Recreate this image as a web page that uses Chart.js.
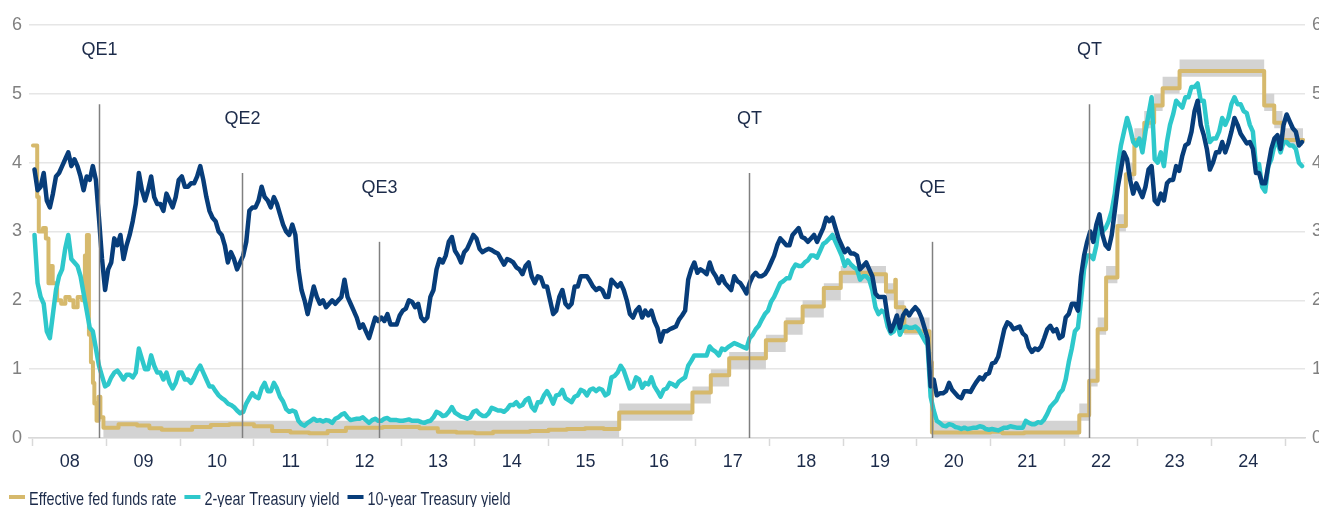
<!DOCTYPE html>
<html>
<head>
<meta charset="utf-8">
<script src="https://cdn.jsdelivr.net/npm/chart.js@4.4.1/dist/chart.umd.min.js"></script>
<style>
  html, body { margin: 0; padding: 0; background: #fff; overflow: hidden; }
  #wrap { position: relative; width: 1332px; height: 515px; }
</style>
</head>
<body>
<div id="wrap"><canvas id="chart"></canvas></div>
<script>
// Year labels under the axis (centred in each year)
var yearLabels = ["08", "09", "10", "11", "12", "13", "14", "15", "16", "17", "18", "19", "20", "21", "22", "23", "24"];

// Months of the Treasury yield series, two readings per month
var yieldMonths = [
  "2008-01","2008-02","2008-03","2008-04","2008-05","2008-06","2008-07","2008-08","2008-09","2008-10","2008-11","2008-12",
  "2009-01","2009-02","2009-03","2009-04","2009-05","2009-06","2009-07","2009-08","2009-09","2009-10","2009-11","2009-12",
  "2010-01","2010-02","2010-03","2010-04","2010-05","2010-06","2010-07","2010-08","2010-09","2010-10","2010-11","2010-12",
  "2011-01","2011-02","2011-03","2011-04","2011-05","2011-06","2011-07","2011-08","2011-09","2011-10","2011-11","2011-12",
  "2012-01","2012-02","2012-03","2012-04","2012-05","2012-06","2012-07","2012-08","2012-09","2012-10","2012-11","2012-12",
  "2013-01","2013-02","2013-03","2013-04","2013-05","2013-06","2013-07","2013-08","2013-09","2013-10","2013-11","2013-12",
  "2014-01","2014-02","2014-03","2014-04","2014-05","2014-06","2014-07","2014-08","2014-09","2014-10","2014-11","2014-12",
  "2015-01","2015-02","2015-03","2015-04","2015-05","2015-06","2015-07","2015-08","2015-09","2015-10","2015-11","2015-12",
  "2016-01","2016-02","2016-03","2016-04","2016-05","2016-06","2016-07","2016-08","2016-09","2016-10","2016-11","2016-12",
  "2017-01","2017-02","2017-03","2017-04","2017-05","2017-06","2017-07","2017-08","2017-09","2017-10","2017-11","2017-12",
  "2018-01","2018-02","2018-03","2018-04","2018-05","2018-06","2018-07","2018-08","2018-09","2018-10","2018-11","2018-12",
  "2019-01","2019-02","2019-03","2019-04","2019-05","2019-06","2019-07","2019-08","2019-09","2019-10","2019-11","2019-12",
  "2020-01","2020-02","2020-03","2020-04","2020-05","2020-06","2020-07","2020-08","2020-09","2020-10","2020-11","2020-12",
  "2021-01","2021-02","2021-03","2021-04","2021-05","2021-06","2021-07","2021-08","2021-09","2021-10","2021-11","2021-12",
  "2022-01","2022-02","2022-03","2022-04","2022-05","2022-06","2022-07","2022-08","2022-09","2022-10","2022-11","2022-12",
  "2023-01","2023-02","2023-03","2023-04","2023-05","2023-06","2023-07","2023-08","2023-09","2023-10","2023-11","2023-12",
  "2024-01","2024-02","2024-03","2024-04","2024-05","2024-06","2024-07","2024-08","2024-09","2024-10","2024-11","2024-12",
  "2025-01","2025-02","2025-03"
];

// 10-year Treasury yield (%), first and second half of each month
var tenYear = [
  3.90,3.60, 3.65,3.85, 3.45,3.35, 3.55,3.80, 3.85,3.95, 4.05,4.15, 3.95,4.05, 3.95,3.80, 3.60,3.80, 3.75,3.95, 3.75,3.20, 2.60,2.15,
  2.45,2.55, 2.90,2.80, 2.95,2.60, 2.80,2.95, 3.15,3.40, 3.85,3.60, 3.45,3.60, 3.80,3.50, 3.40,3.40, 3.30,3.55, 3.45,3.35, 3.50,3.75,
  3.80,3.65, 3.65,3.70, 3.70,3.80, 3.95,3.75, 3.50,3.30, 3.20,3.15, 3.00,2.95, 2.80,2.55, 2.70,2.60, 2.45,2.55, 2.65,2.85, 3.30,3.35,
  3.35,3.45, 3.65,3.50, 3.45,3.35, 3.50,3.40, 3.25,3.10, 3.00,2.95, 3.10,2.95, 2.45,2.15, 2.00,1.80, 2.00,2.20, 2.05,1.95, 2.00,1.90,
  1.95,2.00, 1.95,2.00, 2.05,2.30, 2.05,1.95, 1.85,1.75, 1.60,1.65, 1.55,1.45, 1.60,1.75, 1.70,1.75, 1.70,1.80, 1.65,1.65, 1.65,1.78,
  1.85,1.88, 2.00,1.98, 1.90,1.95, 1.75,1.70, 1.75,2.05, 2.15,2.45, 2.60,2.55, 2.65,2.85, 2.92,2.72, 2.65,2.55, 2.70,2.75, 2.85,2.95,
  2.90,2.75, 2.70,2.73, 2.75,2.73, 2.70,2.68, 2.60,2.52, 2.60,2.58, 2.55,2.48, 2.45,2.38, 2.50,2.55, 2.35,2.25, 2.35,2.33, 2.20,2.20,
  2.00,1.80, 1.85,2.05, 2.15,1.95, 1.90,1.95, 2.20,2.20, 2.35,2.35, 2.35,2.28, 2.20,2.15, 2.18,2.15, 2.05,2.05, 2.30,2.25, 2.20,2.25,
  2.15,2.00, 1.80,1.75, 1.85,1.90, 1.75,1.85, 1.78,1.85, 1.70,1.60, 1.40,1.55, 1.55,1.58, 1.60,1.62, 1.72,1.78, 1.85,2.30, 2.45,2.55,
  2.40,2.45, 2.42,2.38, 2.55,2.42, 2.35,2.25, 2.35,2.25, 2.20,2.15, 2.35,2.28, 2.25,2.18, 2.10,2.25, 2.35,2.40, 2.35,2.35, 2.38,2.45,
  2.55,2.65, 2.80,2.90, 2.85,2.80, 2.80,2.95, 3.00,3.05, 2.92,2.90, 2.85,2.90, 2.95,2.85, 2.95,3.05, 3.20,3.15, 3.20,3.05, 2.90,2.80,
  2.70,2.75, 2.68,2.68, 2.65,2.45, 2.50,2.55, 2.45,2.35, 2.10,2.05, 2.05,2.05, 1.75,1.55, 1.65,1.78, 1.60,1.78, 1.85,1.78, 1.85,1.90,
  1.85,1.75, 1.60,1.45, 0.75,0.85, 0.62,0.65, 0.65,0.68, 0.80,0.70, 0.65,0.60, 0.58,0.68, 0.68,0.67, 0.75,0.82, 0.88,0.85, 0.92,0.94,
  1.08,1.10, 1.18,1.38, 1.58,1.68, 1.65,1.58, 1.60,1.62, 1.52,1.48, 1.32,1.25, 1.30,1.28, 1.33,1.45, 1.58,1.63, 1.55,1.58, 1.45,1.48,
  1.75,1.80, 1.95,1.95, 1.85,2.35, 2.65,2.85, 3.00,2.85, 3.10,3.25, 2.95,2.80, 2.75,2.95, 3.30,3.65, 3.90,4.15, 4.05,3.75, 3.55,3.70,
  3.60,3.50, 3.65,3.90, 3.95,3.45, 3.40,3.55, 3.45,3.70, 3.75,3.75, 3.95,3.88, 4.10,4.25, 4.28,4.45, 4.75,4.90, 4.55,4.40, 4.20,3.90,
  4.00,4.15, 4.15,4.30, 4.15,4.28, 4.45,4.65, 4.55,4.42, 4.35,4.28, 4.30,4.20, 3.85,3.85, 3.70,3.70, 3.95,4.20, 4.35,4.40, 4.20,4.55,
  4.70,4.60, 4.50,4.45, 4.25,4.30
];

// 2-year Treasury yield (%), first and second half of each month
var twoYear = [
  2.95,2.25, 2.05,1.95, 1.55,1.45, 1.80,2.15, 2.35,2.45, 2.75,2.95, 2.60,2.55, 2.50,2.35, 2.10,1.85, 1.60,1.55, 1.30,1.05, 0.90,0.75,
  0.78,0.88, 0.95,0.98, 0.92,0.85, 0.92,0.92, 0.88,0.95, 1.30,1.15, 1.00,1.00, 1.20,1.05, 0.95,0.95, 0.85,0.95, 0.80,0.72, 0.80,0.95,
  0.95,0.85, 0.85,0.80, 0.88,0.98, 1.05,0.95, 0.85,0.75, 0.75,0.68, 0.62,0.58, 0.55,0.50, 0.48,0.45, 0.40,0.36, 0.38,0.50, 0.58,0.65,
  0.60,0.58, 0.72,0.80, 0.68,0.68, 0.80,0.72, 0.60,0.53, 0.42,0.38, 0.40,0.38, 0.25,0.20, 0.18,0.22, 0.25,0.28, 0.25,0.26, 0.24,0.26,
  0.25,0.22, 0.28,0.30, 0.34,0.36, 0.30,0.26, 0.27,0.28, 0.28,0.30, 0.26,0.22, 0.26,0.28, 0.25,0.25, 0.28,0.29, 0.26,0.26, 0.26,0.25,
  0.25,0.26, 0.27,0.25, 0.25,0.25, 0.23,0.22, 0.24,0.25, 0.30,0.38, 0.36,0.32, 0.33,0.38, 0.45,0.37, 0.34,0.31, 0.30,0.28, 0.30,0.38,
  0.40,0.35, 0.32,0.32, 0.36,0.44, 0.42,0.40, 0.40,0.38, 0.42,0.48, 0.48,0.52, 0.46,0.48, 0.55,0.58, 0.45,0.40, 0.52,0.52, 0.62,0.68,
  0.60,0.50, 0.62,0.63, 0.70,0.58, 0.55,0.52, 0.60,0.62, 0.70,0.68, 0.62,0.70, 0.72,0.68, 0.72,0.70, 0.62,0.65, 0.88,0.90, 0.95,1.05,
  0.98,0.85, 0.72,0.75, 0.88,0.85, 0.73,0.80, 0.78,0.88, 0.75,0.68, 0.60,0.70, 0.72,0.80, 0.78,0.75, 0.82,0.85, 0.88,1.05, 1.12,1.20,
  1.20,1.20, 1.20,1.20, 1.33,1.28, 1.25,1.20, 1.30,1.28, 1.32,1.35, 1.38,1.36, 1.34,1.32, 1.30,1.45, 1.50,1.58, 1.63,1.72, 1.80,1.85,
  1.98,2.05, 2.15,2.25, 2.28,2.32, 2.32,2.45, 2.52,2.50, 2.50,2.55, 2.58,2.65, 2.65,2.62, 2.72,2.82, 2.85,2.90, 2.95,2.85, 2.75,2.65,
  2.50,2.58, 2.52,2.48, 2.45,2.30, 2.35,2.35, 2.30,2.15, 1.90,1.80, 1.85,1.82, 1.62,1.52, 1.55,1.70, 1.50,1.60, 1.62,1.60, 1.60,1.62,
  1.58,1.50, 1.42,1.35, 0.60,0.40, 0.25,0.22, 0.18,0.17, 0.20,0.19, 0.16,0.15, 0.13,0.15, 0.13,0.14, 0.15,0.15, 0.17,0.16, 0.13,0.12,
  0.13,0.12, 0.11,0.13, 0.15,0.15, 0.17,0.16, 0.15,0.15, 0.15,0.25, 0.22,0.20, 0.20,0.23, 0.22,0.27, 0.35,0.45, 0.50,0.55, 0.65,0.70,
  0.85,1.10, 1.30,1.55, 1.60,2.00, 2.45,2.65, 2.65,2.60, 2.80,3.15, 3.00,3.05, 3.15,3.30, 3.55,3.95, 4.25,4.45, 4.65,4.50, 4.30,4.25,
  4.35,4.15, 4.45,4.70, 4.95,4.05, 4.00,4.15, 3.95,4.30, 4.55,4.70, 4.90,4.85, 4.80,4.95, 4.95,5.10, 5.10,5.15, 4.90,4.90, 4.55,4.30,
  4.35,4.35, 4.45,4.65, 4.55,4.65, 4.85,4.95, 4.85,4.85, 4.75,4.72, 4.55,4.45, 3.95,3.98, 3.65,3.58, 3.95,4.05, 4.25,4.30, 4.15,4.30,
  4.30,4.25, 4.25,4.20, 4.00,3.95
];

// Effective fed funds rate (%), value from each date on
var effrDates = [
  "2008-01-01","2008-01-22","2008-01-30","2008-02-20","2008-03-05","2008-03-18","2008-04-01","2008-04-08","2008-04-30",
  "2008-05-20","2008-06-10","2008-07-01","2008-07-20","2008-08-10","2008-09-01","2008-09-15","2008-09-18","2008-09-25",
  "2008-10-05","2008-10-15","2008-10-25","2008-11-01","2008-11-12","2008-11-22","2008-12-01","2008-12-16",
  "2009-03-01","2009-06-01","2009-08-01","2009-10-01","2010-03-01","2010-06-01","2010-09-01","2011-01-01","2011-04-01",
  "2011-07-01","2011-10-01","2012-01-01","2012-04-01","2012-10-01","2013-04-01","2013-07-01","2013-10-01","2014-01-01",
  "2014-04-01","2014-10-01","2015-01-01","2015-04-01","2015-07-01","2015-10-01","2015-12-17","2016-12-15","2017-03-16",
  "2017-06-15","2017-12-14","2018-03-22","2018-06-14","2018-09-27","2018-12-20","2019-05-02","2019-08-01","2019-09-16",
  "2019-09-19","2019-10-31","2020-03-04","2020-03-16","2021-01-01","2021-03-01","2021-06-17","2022-03-17","2022-05-05",
  "2022-06-16","2022-07-28","2022-09-22","2022-11-03","2022-12-15","2023-02-02","2023-03-23","2023-05-04","2023-07-27",
  "2024-09-19","2024-11-08","2024-12-19","2025-03-31"
];
var effrValues = [
  4.25, 3.50, 3.00, 3.05, 2.90, 2.25, 2.50, 2.25, 2.00,
  1.95, 2.05, 2.00, 1.90, 2.05, 2.00, 2.65, 2.00, 2.95,
  1.50, 1.10, 0.80, 0.50, 0.25, 0.60, 0.30, 0.15,
  0.20, 0.18, 0.14, 0.12, 0.16, 0.19, 0.20, 0.17, 0.10,
  0.08, 0.07, 0.10, 0.15, 0.16, 0.14, 0.09, 0.08, 0.07,
  0.09, 0.10, 0.12, 0.13, 0.14, 0.13, 0.37, 0.66, 0.91,
  1.16, 1.42, 1.68, 1.91, 2.18, 2.40, 2.38, 2.13, 2.30,
  1.90, 1.55, 1.10, 0.08, 0.09, 0.07, 0.08, 0.33, 0.83,
  1.58, 2.33, 3.08, 3.83, 4.33, 4.58, 4.83, 5.08, 5.33,
  4.83, 4.58, 4.33, 4.33
];

// Fed funds target range (%), from each date on
var targetDates = [
  "2008-01-01","2008-01-22","2008-01-30","2008-03-18","2008-04-30","2008-10-08","2008-10-29","2008-12-16","2015-12-17",
  "2016-12-15","2017-03-16","2017-06-15","2017-12-14","2018-03-22","2018-06-14","2018-09-27","2018-12-20","2019-08-01",
  "2019-09-19","2019-10-31","2020-03-04","2020-03-16","2022-03-17","2022-05-05","2022-06-16","2022-07-28","2022-09-22",
  "2022-11-03","2022-12-15","2023-02-02","2023-03-23","2023-05-04","2023-07-27","2024-09-19","2024-11-08","2024-12-19",
  "2025-03-31"
];
var targetLower = [4.25, 3.50, 3.00, 2.25, 2.00, 1.50, 1.00, 0.00, 0.25, 0.50, 0.75, 1.00, 1.25, 1.50, 1.75, 2.00, 2.25, 2.00,
  1.75, 1.50, 1.00, 0.00, 0.25, 0.75, 1.50, 2.25, 3.00, 3.75, 4.25, 4.50, 4.75, 5.00, 5.25, 4.75, 4.50, 4.25, 4.25];
var targetUpper = [4.25, 3.50, 3.00, 2.25, 2.00, 1.50, 1.00, 0.25, 0.50, 0.75, 1.00, 1.25, 1.50, 1.75, 2.00, 2.25, 2.50, 2.25,
  2.00, 1.75, 1.25, 0.25, 0.50, 1.00, 1.75, 2.50, 3.25, 4.00, 4.50, 4.75, 5.00, 5.25, 5.50, 5.00, 4.75, 4.50, 4.50];

// Policy events marked with vertical lines
var eventLabels = ["QE1", "QE2", "QE3", "QT", "QE", "QT"];
var eventDates = ["2008-11-25", "2010-11-03", "2012-09-13", "2017-09-20", "2020-03-15", "2022-05-04"];
var eventTops = [4.85, 3.85, 2.85, 3.85, 2.85, 4.85];

var gold = "#d6b96c";
var teal = "#2ec8cb";
var navy = "#073d7a";
var textNavy = "#1c2b4a";
var axisGray = "#d9d9d9";
var labelFont = "'Liberation Sans', Arial, sans-serif";
var legendSqueeze = 0.76; // legend text is set in a condensed face

// decimal year from "YYYY-MM-DD"
function toYear(s) {
  var p = s.split("-");
  var y = +p[0];
  var start = Date.UTC(y, 0, 1);
  var end = Date.UTC(y + 1, 0, 1);
  return y + (Date.UTC(y, +p[1] - 1, +p[2]) - start) / (end - start);
}

// decimal year for the first / second half of a "YYYY-MM" month
function halfMonthYear(ym, half) {
  var p = ym.split("-");
  return +p[0] + (+p[1] - 1 + (half ? 0.75 : 0.25)) / 12;
}

var tenYearPoints = [];
var twoYearPoints = [];
yieldMonths.forEach(function (ym, i) {
  for (var h = 0; h < 2; h++) {
    var x = halfMonthYear(ym, h);
    tenYearPoints.push({ x: x, y: tenYear[i * 2 + h] });
    twoYearPoints.push({ x: x, y: twoYear[i * 2 + h] });
  }
});

var effrPoints = effrDates.map(function (d, i) { return { x: toYear(d), y: effrValues[i] }; });
var upperPoints = targetDates.map(function (d, i) { return { x: toYear(d), y: targetUpper[i] }; });
var lowerPoints = targetDates.map(function (d, i) { return { x: toYear(d), y: targetLower[i] }; });

// vertical event lines and their labels
var eventPlugin = {
  id: "eventLines",
  afterDatasetsDraw: function (chart) {
    var ctx = chart.ctx;
    var xs = chart.scales.x;
    var ys = chart.scales.y;
    ctx.save();
    eventLabels.forEach(function (label, i) {
      var x = Math.round(xs.getPixelForValue(toYear(eventDates[i]))) + 0.5;
      ctx.strokeStyle = "#808080";
      ctx.lineWidth = 1.5;
      ctx.beginPath();
      ctx.moveTo(x, ys.getPixelForValue(eventTops[i]));
      ctx.lineTo(x, ys.getPixelForValue(0));
      ctx.stroke();
      ctx.fillStyle = textNavy;
      ctx.font = "18px " + labelFont;
      ctx.textAlign = "center";
      ctx.textBaseline = "middle";
      ctx.fillText(label, x, ys.getPixelForValue(eventTops[i] + 0.78));
    });
    ctx.restore();
  }
};

// legend along the bottom edge, condensed text
var legendPlugin = {
  id: "bottomLegend",
  afterDraw: function (chart) {
    var ctx = chart.ctx;
    var x = 9;
    ctx.save();
    ctx.font = "19px " + labelFont;
    ctx.textBaseline = "alphabetic";
    ctx.textAlign = "left";
    [0, 1, 2].forEach(function (i) {
      var ds = chart.data.datasets[i];
      ctx.fillStyle = ds.borderColor;
      ctx.fillRect(x, 495, 16, 4);
      x += 20;
      ctx.fillStyle = textNavy;
      ctx.save();
      ctx.translate(x, 505);
      ctx.scale(legendSqueeze, 1);
      ctx.fillText(ds.label, 0, 0);
      ctx.restore();
      x += ctx.measureText(ds.label).width * legendSqueeze + 8;
    });
    ctx.restore();
  }
};

var yTicks = {
  stepSize: 1,
  color: "#808080",
  padding: 7,
  font: { family: labelFont, size: 18 }
};

new Chart(document.getElementById("chart"), {
  type: "line",
  data: {
    datasets: [
      { label: "Effective fed funds rate", data: effrPoints, borderColor: gold, backgroundColor: gold, borderWidth: 4, stepped: true, order: 2 },
      { label: "2-year Treasury yield", data: twoYearPoints, borderColor: teal, backgroundColor: teal, borderWidth: 4.5, order: 1 },
      { label: "10-year Treasury yield", data: tenYearPoints, borderColor: navy, backgroundColor: navy, borderWidth: 4.5, order: 0 },
      { label: "upper", data: upperPoints, borderWidth: 0, borderColor: "rgba(0,0,0,0)", backgroundColor: "#d3d3d3", stepped: true, fill: 4, order: 3 },
      { label: "lower", data: lowerPoints, borderWidth: 0, borderColor: "rgba(0,0,0,0)", stepped: true, fill: false, order: 4 }
    ]
  },
  options: {
    responsive: true,
    maintainAspectRatio: false,
    animation: false,
    layout: { padding: { top: 25, left: 0, right: 0, bottom: 37 } },
    elements: {
      point: { radius: 0 },
      line: { tension: 0, borderJoinStyle: "round", borderCapStyle: "round" }
    },
    plugins: {
      tooltip: { enabled: false },
      legend: { display: false }
    },
    scales: {
      x: {
        type: "linear",
        min: 2007.946,
        max: 2025.27,
        afterBuildTicks: function (scale) {
          var ticks = [];
          for (var i = 0; i <= yearLabels.length; i++) {
            ticks.push({ value: 2008 + i });
            if (i < yearLabels.length) ticks.push({ value: 2008.5 + i });
          }
          scale.ticks = ticks;
        },
        afterFit: function (scale) { scale.height = 40; },
        ticks: {
          autoSkip: false,
          maxRotation: 0,
          padding: 5,
          color: textNavy,
          font: { family: labelFont, size: 18 },
          callback: function (value) {
            if (Math.abs(value % 1 - 0.5) > 0.01) return "";
            return yearLabels[Math.round(value - 0.5) - 2008];
          }
        },
        grid: {
          drawOnChartArea: false,
          tickLength: 8,
          tickWidth: 1.5,
          tickColor: function (ctx) {
            return ctx.tick && Number.isInteger(ctx.tick.value) ? axisGray : "rgba(0,0,0,0)";
          }
        },
        border: { color: axisGray, width: 1.5 }
      },
      y: {
        position: "left",
        min: 0,
        max: 6,
        ticks: yTicks,
        grid: { color: "#e6e6e6", lineWidth: 1.5, drawTicks: false },
        border: { display: false },
        afterFit: function (scale) { scale.width = 29; }
      },
      y2: {
        position: "right",
        min: 0,
        max: 6,
        ticks: yTicks,
        grid: { display: false, drawTicks: false },
        border: { display: false },
        afterFit: function (scale) { scale.width = 27; }
      }
    }
  },
  plugins: [eventPlugin, legendPlugin]
});
</script>
</body>
</html>
